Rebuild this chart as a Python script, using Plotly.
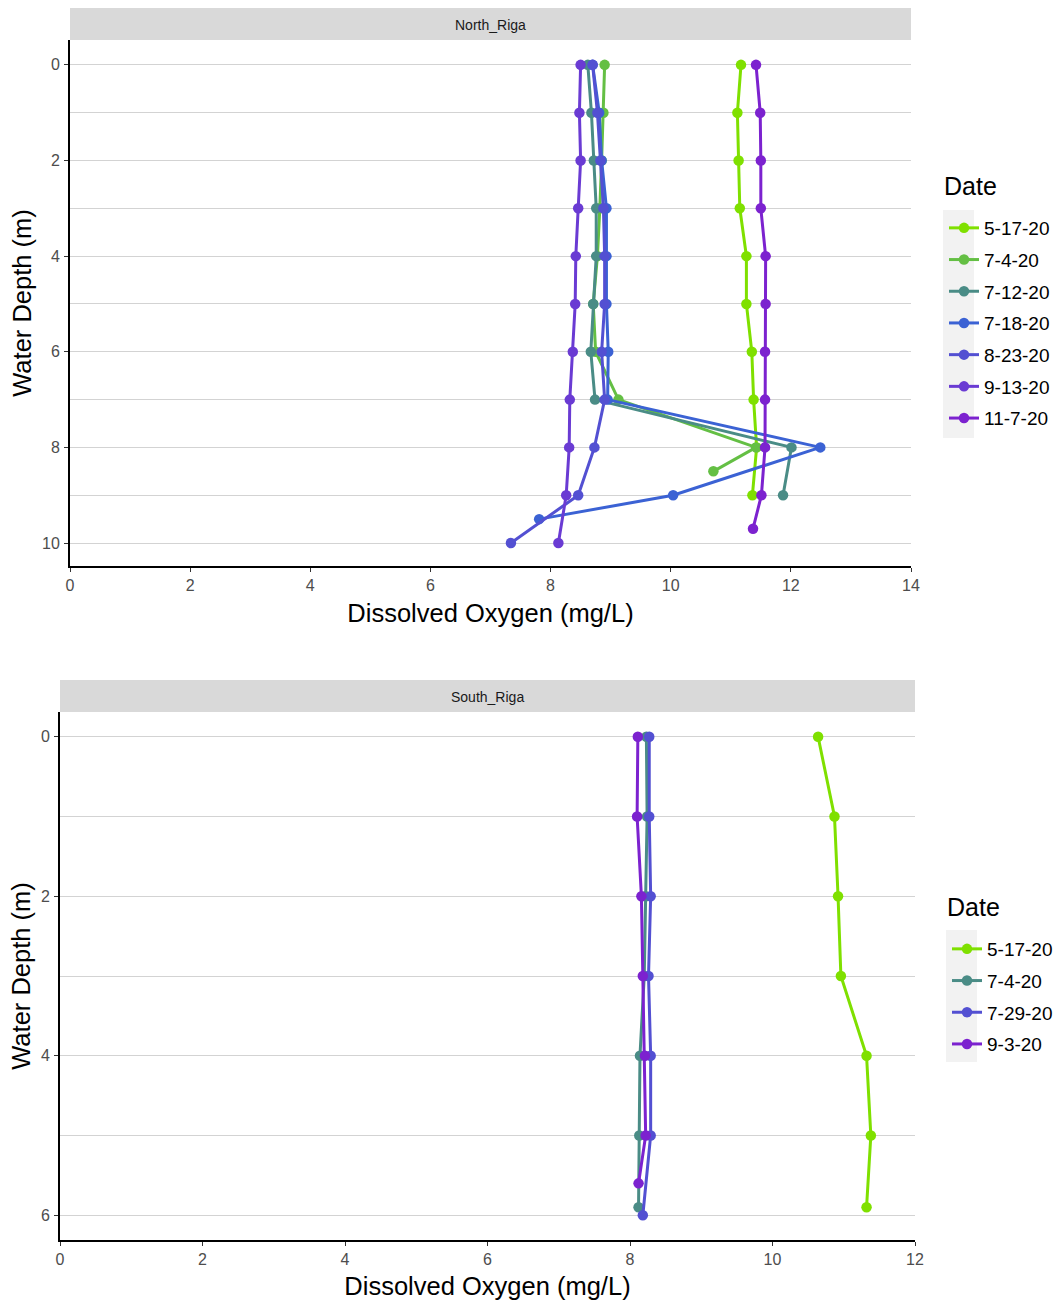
import plotly.graph_objects as go

# ---------------- data ----------------
north_dates = ["5-17-20", "7-4-20", "7-12-20", "7-18-20", "8-23-20", "9-13-20", "11-7-20"]
north_colors = ["#7FE000", "#64BF44", "#4A8C86", "#3B62D4", "#5350D2", "#6A3BD3", "#7C22CF"]
north_depth = {
    "5-17-20": [0, 1, 2, 3, 4, 5, 6, 7, 8, 9],
    "7-4-20": [0, 1, 2, 3, 4, 5, 6, 7, 8, 8.5],
    "7-12-20": [0, 1, 2, 3, 4, 5, 6, 7, 8, 9],
    "7-18-20": [0, 1, 2, 3, 4, 5, 6, 7, 8, 9, 9.5],
    "8-23-20": [0, 1, 2, 3, 4, 5, 6, 7, 8, 9, 10],
    "9-13-20": [0, 1, 2, 3, 4, 5, 6, 7, 8, 9, 10],
    "11-7-20": [0, 1, 2, 3, 4, 5, 6, 7, 8, 9, 9.7],
}
north_do = {
    "5-17-20": [11.17, 11.11, 11.13, 11.15, 11.26, 11.26, 11.35, 11.38, 11.43, 11.36],
    "7-4-20": [8.90, 8.88, 8.85, 8.82, 8.78, 8.71, 8.75, 9.13, 11.42, 10.71],
    "7-12-20": [8.62, 8.68, 8.72, 8.76, 8.76, 8.71, 8.67, 8.74, 12.01, 11.87],
    "7-18-20": [8.70, 8.81, 8.85, 8.93, 8.93, 8.93, 8.96, 8.95, 12.49, 10.04, 7.81],
    "8-23-20": [8.70, 8.78, 8.83, 8.88, 8.90, 8.90, 8.85, 8.90, 8.73, 8.46, 7.34],
    "9-13-20": [8.50, 8.48, 8.50, 8.46, 8.42, 8.41, 8.37, 8.32, 8.31, 8.26, 8.13],
    "11-7-20": [11.42, 11.49, 11.50, 11.50, 11.58, 11.58, 11.57, 11.57, 11.57, 11.51, 11.37],
}

south_dates = ["5-17-20", "7-4-20", "7-29-20", "9-3-20"]
south_colors = ["#7FE000", "#4A8C86", "#5350D2", "#7C22CF"]
south_depth = {
    "5-17-20": [0, 1, 2, 3, 4, 5, 5.9],
    "7-4-20": [0, 1, 2, 3, 4, 5, 5.9],
    "7-29-20": [0, 1, 2, 3, 4, 5, 6],
    "9-3-20": [0, 1, 2, 3, 4, 5, 5.6],
}
south_do = {
    "5-17-20": [10.64, 10.87, 10.92, 10.96, 11.32, 11.38, 11.32],
    "7-4-20": [8.23, 8.24, 8.22, 8.20, 8.14, 8.13, 8.12],
    "7-29-20": [8.27, 8.27, 8.29, 8.26, 8.29, 8.29, 8.18],
    "9-3-20": [8.11, 8.10, 8.16, 8.18, 8.21, 8.22, 8.12],
}

panel_titles = ["North_Riga", "South_Riga"]
x_title = "Dissolved Oxygen (mg/L)"
y_title = "Water Depth (m)"
legend_title = "Date"

# ---------------- layout helpers ----------------
W, H = 1061, 1302
def px_x(p):
    return p / W
def px_y(p):
    return 1 - p / H

FONT = "Liberation Sans, Arial"

fig = go.Figure()

for name, col in zip(north_dates, north_colors):
    fig.add_trace(go.Scatter(
        x=north_do[name], y=north_depth[name], name=name, mode="lines+markers",
        line=dict(color=col, width=3), marker=dict(color=col, size=10.5),
        xaxis="x", yaxis="y", legend="legend", legendgroup="n" + name,
    ))
for name, col in zip(south_dates, south_colors):
    fig.add_trace(go.Scatter(
        x=south_do[name], y=south_depth[name], name=name, mode="lines+markers",
        line=dict(color=col, width=3), marker=dict(color=col, size=10.5),
        xaxis="x2", yaxis="y2", legend="legend2", legendgroup="s" + name,
    ))

axis_common = dict(
    showline=True, linecolor="black", linewidth=2, mirror=False,
    ticks="outside", ticklen=4, tickcolor="#333333", tickwidth=1,
    tickfont=dict(family=FONT, size=16, color="#4D4D4D"),
    zeroline=False, automargin=False,
)
title_font = dict(family=FONT, size=25.5, color="black")

fig.update_layout(
    template="none",
    width=W, height=H, margin=dict(l=0, r=0, t=0, b=0, autoexpand=False),
    plot_bgcolor="white", paper_bgcolor="white", showlegend=True,
    xaxis=dict(domain=[px_x(70), px_x(911)], range=[0, 14], dtick=2, showgrid=False,
               anchor="y", ticklabelstandoff=0,
               title=dict(text=x_title, font=title_font, standoff=11), **axis_common),
    yaxis=dict(domain=[px_y(566), px_y(40)], range=[10.48, -0.52], dtick=2,
               showgrid=True, gridcolor="#D3D3D3", gridwidth=1,
               minor=dict(dtick=1, showgrid=True, gridcolor="#D3D3D3", gridwidth=1),
               anchor="x", ticklabelstandoff=1,
               title=dict(text=y_title, font=title_font, standoff=3), **axis_common),
    xaxis2=dict(domain=[px_x(60), px_x(915)], range=[0, 12], dtick=2, showgrid=False,
                anchor="y2", ticklabelstandoff=0,
                title=dict(text=x_title, font=title_font, standoff=10), **axis_common),
    yaxis2=dict(domain=[px_y(1240), px_y(712)], range=[6.31, -0.31], dtick=2,
                showgrid=True, gridcolor="#D3D3D3", gridwidth=1,
                minor=dict(dtick=1, showgrid=True, gridcolor="#D3D3D3", gridwidth=1),
                anchor="x2", ticklabelstandoff=1,
                title=dict(text=y_title, font=title_font, standoff=3), **axis_common),
    legend=dict(x=px_x(944), y=px_y(209), xanchor="left", yanchor="top",
                font=dict(family=FONT, size=19, color="black"),
                tracegroupgap=4, itemwidth=30, bgcolor="rgba(0,0,0,0)", borderwidth=0),
    legend2=dict(x=px_x(947), y=px_y(930), xanchor="left", yanchor="top",
                 font=dict(family=FONT, size=19, color="black"),
                 tracegroupgap=4, itemwidth=30, bgcolor="rgba(0,0,0,0)", borderwidth=0),
)

shapes = [
    dict(type="rect", xref="paper", yref="paper", x0=px_x(70), x1=px_x(911), y0=px_y(40), y1=px_y(8),
         fillcolor="#D9D9D9", line=dict(width=0), layer="below"),
    dict(type="rect", xref="paper", yref="paper", x0=px_x(60), x1=px_x(915), y0=px_y(712), y1=px_y(680),
         fillcolor="#D9D9D9", line=dict(width=0), layer="below"),
    dict(type="rect", xref="paper", yref="paper", x0=px_x(943), x1=px_x(974), y0=px_y(438), y1=px_y(210),
         fillcolor="#F2F2F2", line=dict(width=0), layer="below"),
    dict(type="rect", xref="paper", yref="paper", x0=px_x(946), x1=px_x(977), y0=px_y(1062), y1=px_y(930),
         fillcolor="#F2F2F2", line=dict(width=0), layer="below"),
]
fig.update_layout(shapes=shapes)
fig.add_annotation(x=(px_x(70) + px_x(911)) / 2, y=px_y(25), xref="paper", yref="paper",
                   yanchor="middle", text=panel_titles[0], showarrow=False,
                   font=dict(family=FONT, size=14, color="#1A1A1A"))
fig.add_annotation(x=(px_x(60) + px_x(915)) / 2, y=px_y(697), xref="paper", yref="paper",
                   yanchor="middle", text=panel_titles[1], showarrow=False,
                   font=dict(family=FONT, size=14, color="#1A1A1A"))
fig.add_annotation(x=px_x(942), y=px_y(186), xref="paper", yref="paper", xanchor="left",
                   yanchor="middle", text=legend_title, showarrow=False,
                   font=dict(family=FONT, size=25, color="black"))
fig.add_annotation(x=px_x(945), y=px_y(907), xref="paper", yref="paper", xanchor="left",
                   yanchor="middle", text=legend_title, showarrow=False,
                   font=dict(family=FONT, size=25, color="black"))

fig.write_html("out.html")
